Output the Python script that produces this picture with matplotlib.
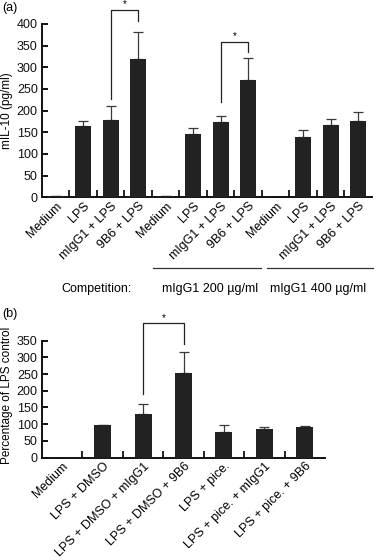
import numpy as np
import matplotlib.pyplot as plt
import matplotlib.transforms as mtransforms

plt.rcParams['font.family'] = ['Liberation Sans', 'DejaVu Sans']

# ── Data ──────────────────────────────────────────────────────────────────────
labels_a = ["Medium", "LPS", "mIgG1 + LPS", "9B6 + LPS"] * 3
values_a = [3, 165, 179, 319, 2, 146, 174, 271, 0, 140, 166, 177]
errors_a = [1, 12, 31, 62, 0, 14, 14, 50, 0, 16, 15, 20]
groups_a = ["mIgG1 200 µg/ml", "mIgG1 400 µg/ml"]

labels_b = ["Medium", "LPS + DMSO", "LPS + DMSO + mIgG1", "LPS + DMSO + 9B6",
            "LPS + pice.", "LPS + pice. + mIgG1", "LPS + pice. + 9B6"]
values_b = [0, 99, 131, 254, 78, 85, 91]
errors_b = [0, 0, 30, 63, 21, 6, 3]

BAR = "#222222"
ERR = "#3a3a3a"
FS = 9

fig = plt.figure(figsize=(3.78, 5.6), dpi=100)


def style(ax, n, ymax, step):
    ax.set_xlim(-0.5, n - 0.5)
    ax.set_ylim(0, ymax)
    ax.set_yticks(np.arange(0, ymax + 1, step))
    for s in ["top", "right"]:
        ax.spines[s].set_visible(False)
    for s in ["left", "bottom"]:
        ax.spines[s].set_linewidth(1.4)
        ax.spines[s].set_color("#111111")
    ax.tick_params(axis="y", direction="in", length=4, width=1.4,
                   labelsize=FS, pad=3, colors="#111111")
    # boundary ticks between categories, pointing inward
    ax.set_xticks(np.arange(0.5, n - 0.5, 1.0), minor=True)
    ax.tick_params(axis="x", which="minor", direction="in", length=5, width=1.2)
    ax.set_xticks(np.arange(n))
    ax.tick_params(axis="x", which="major", length=0, pad=2)


def bracket(ax, x1, x2, y1, ytop, y2):
    ax.plot([x1, x1, x2, x2], [y1, ytop, ytop, y2], color="#222222",
            lw=0.9, clip_on=False)
    ax.annotate("*", ((x1 + x2) / 2, ytop), xytext=(0, 4),
                textcoords="offset points", ha="center", va="center",
                fontsize=7, annotation_clip=False)


# ── Panel (a) ────────────────────────────────────────────────────────────────
ax1 = fig.add_axes([0.111, 0.6477, 0.873, 0.3096])
xa = np.arange(len(values_a))
ax1.bar(xa, values_a, width=0.58, color=BAR, zorder=3)
ax1.errorbar(xa, values_a, yerr=[np.zeros(len(errors_a)), errors_a], fmt="none",
             ecolor=ERR, elinewidth=0.9, capsize=3.5, capthick=0.9, zorder=2)
style(ax1, len(values_a), 400, 50)
ax1.set_xticklabels(labels_a, rotation=45, ha="right", va="top",
                    rotation_mode="anchor", fontsize=FS)
ax1.set_ylabel("mIL-10 (pg/ml)", fontsize=8.5)
ax1.yaxis.set_label_coords(-0.088, 0.5)

bracket(ax1, 2, 3, 227, 432, 407)
bracket(ax1, 6, 7, 219, 358, 336)

trans = mtransforms.blended_transform_factory(ax1.transData, ax1.transAxes)
ax1.plot([3.55, 7.45], [-0.41, -0.41], color="#333333", lw=0.9,
         transform=trans, clip_on=False)
ax1.plot([7.7, 11.55], [-0.41, -0.41], color="#333333", lw=0.9,
         transform=trans, clip_on=False)
ax1.text(1.5, -0.53, "Competition:", transform=trans, ha="center", va="center",
         fontsize=FS)
ax1.text(5.6, -0.53, groups_a[0], transform=trans, ha="center", va="center",
         fontsize=FS)
ax1.text(9.55, -0.53, groups_a[1], transform=trans, ha="center", va="center",
         fontsize=FS)
fig.text(0.005, 0.986, "(a)", fontsize=FS, ha="left", va="center")

# ── Panel (b) ────────────────────────────────────────────────────────────────
ax2 = fig.add_axes([0.111, 0.1829, 0.749, 0.2087])
xb = np.arange(len(values_b))
ax2.bar(xb, values_b, width=0.42, color=BAR, zorder=3)
ax2.errorbar(xb, values_b, yerr=[np.zeros(len(errors_b)), errors_b], fmt="none",
             ecolor=ERR, elinewidth=0.9, capsize=3.5, capthick=0.9, zorder=2)
style(ax2, len(values_b), 350, 50)
ax2.set_xticklabels(labels_b, rotation=45, ha="right", va="top",
                    rotation_mode="anchor", fontsize=FS)
ax2.set_ylabel("Percentage of LPS control", fontsize=8.5)
ax2.yaxis.set_label_coords(-0.103, 0.53)

bracket(ax2, 2, 3, 190, 402, 339)
fig.text(0.005, 0.44, "(b)", fontsize=FS, ha="left", va="center")

fig.savefig("out.png", dpi=100)
